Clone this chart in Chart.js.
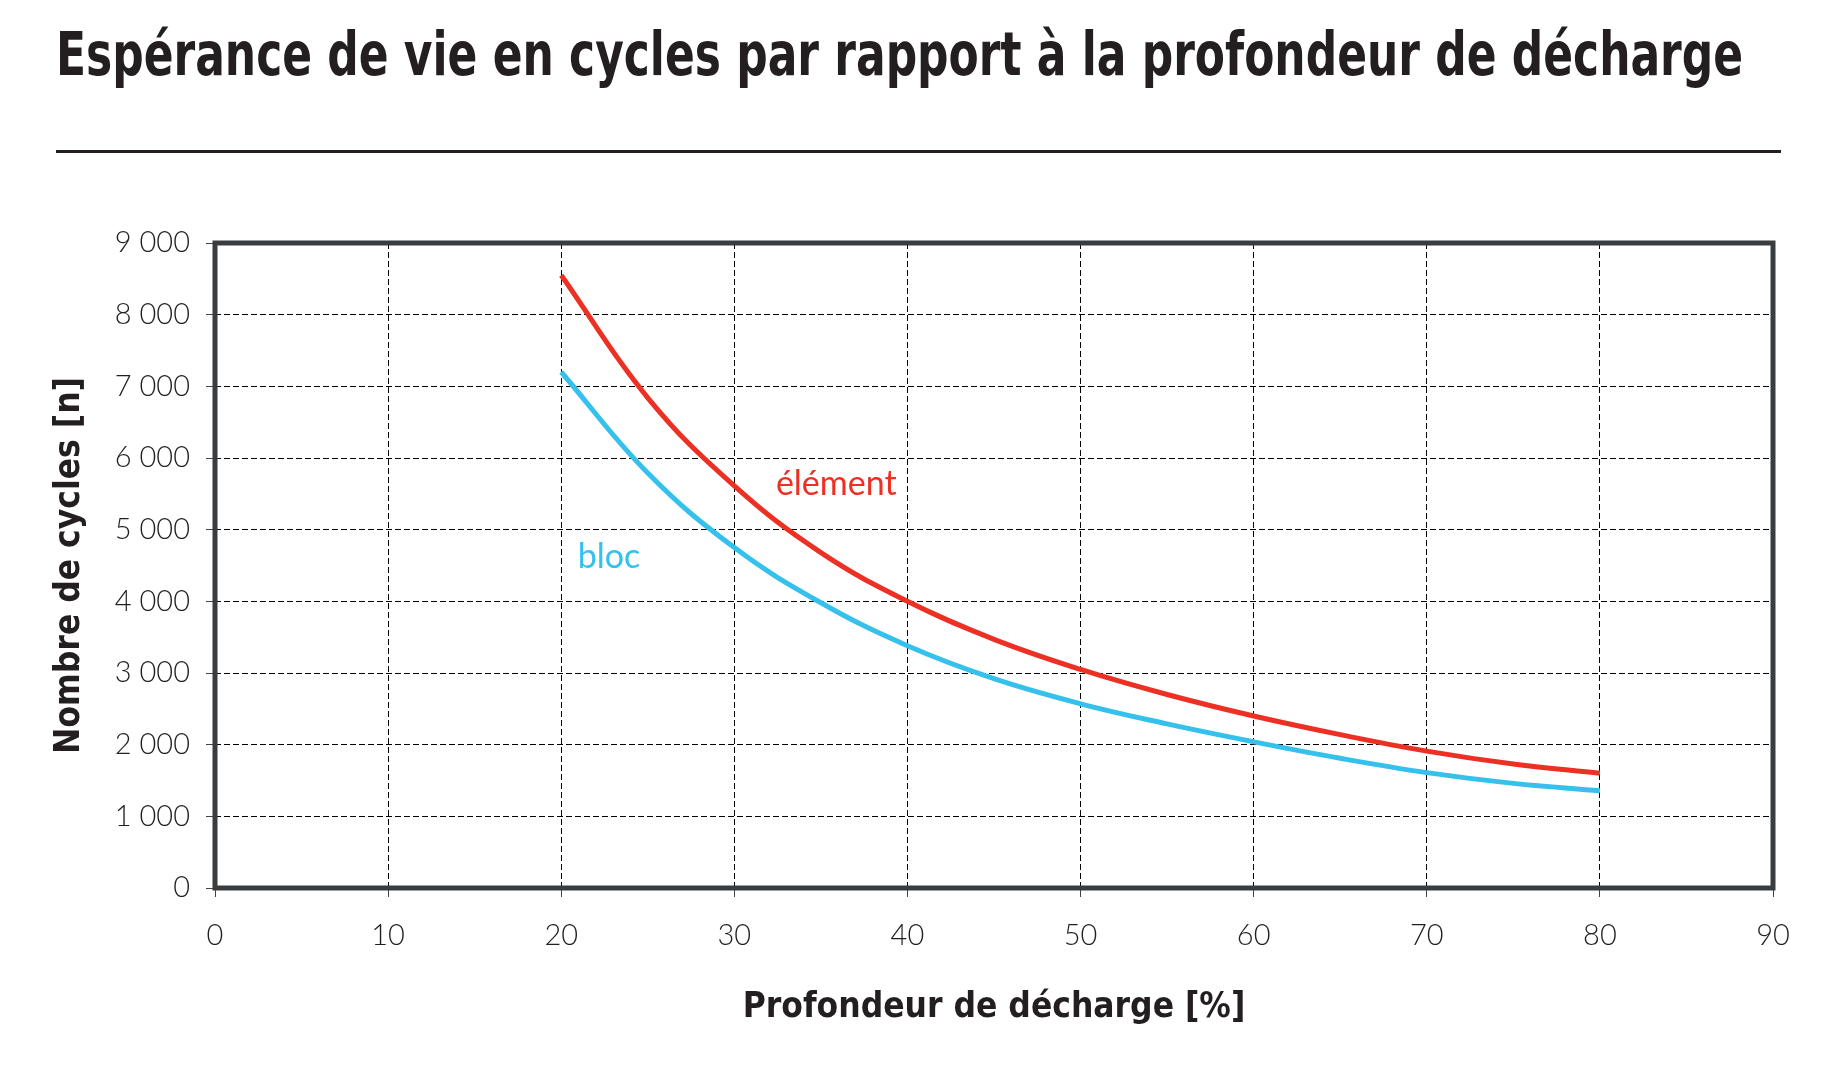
<!DOCTYPE html>
<html>
<head>
<meta charset="utf-8">
<script src="https://cdn.jsdelivr.net/npm/chart.js@4.4.1/dist/chart.umd.min.js"></script>
<style>
	html, body { margin: 0; padding: 0; background: #fff; }
	body { width: 1841px; height: 1078px; position: relative; overflow: hidden; }
	#wrap { position: absolute; left: 0; top: 0; width: 1841px; height: 1078px; }
	#title {
		position: absolute; left: 56px; top: 24px;
		font: bold 60px "Liberation Sans Narrow", "DejaVu Sans Condensed", sans-serif;
		line-height: 60px; color: #231f20; white-space: nowrap;
		transform-origin: left top;
	}
	#rule { position: absolute; left: 56px; top: 150px; width: 1725px; height: 3px; background: #231f20; }
</style>
</head>
<body>
<div id="wrap"><canvas id="cycles-chart"></canvas></div>
<div id="title">Espérance de vie en cycles par rapport à la profondeur de décharge</div>
<div id="rule"></div>
<script>
// values
const depthPct = [20, 25, 30, 35, 40, 45, 50, 55, 60, 65, 70, 75, 80];
const cyclesElement = [8550, 6840, 5610, 4680, 4000, 3470, 3050, 2700, 2400, 2140, 1910, 1730, 1600];
const cyclesBloc = [7200, 5790, 4750, 3980, 3380, 2920, 2570, 2290, 2040, 1810, 1610, 1460, 1357];
const xTicks = [0, 10, 20, 30, 40, 50, 60, 70, 80, 90];
const yTicks = [0, 1000, 2000, 3000, 4000, 5000, 6000, 7000, 8000, 9000];

const RED = "#ec3124";
const BLUE = "#35c1ec";
const INK = "#231f20";
const NARROW = '"Liberation Sans Narrow", "DejaVu Sans Condensed", sans-serif';
const LIGHT = 'Lato, "Open Sans", sans-serif';

// curve captions, anchored in data units
const captions = [
	{ text: "élément", x: 32.4, y: 5480, color: RED },
	{ text: "bloc", x: 20.95, y: 4460, color: BLUE },
];

const toPoints = (xs, ys) => xs.map((x, i) => ({ x: x, y: ys[i] }));
const spaced = (v) => String(v).replace(/\B(?=(\d{3})+(?!\d))/g, "\u00a0");

const framePlugin = {
	id: "frame",
	afterDatasetsDraw(chart) {
		const { ctx, chartArea: a, scales } = chart;
		ctx.save();
		ctx.font = "400 34px " + LIGHT;
		ctx.textBaseline = "alphabetic";
		captions.forEach((c) => {
			ctx.fillStyle = c.color;
			ctx.fillText(c.text, scales.x.getPixelForValue(c.x), scales.y.getPixelForValue(c.y));
		});
		ctx.strokeStyle = "#3a3d40";
		ctx.lineWidth = 5;
		ctx.strokeRect(a.left, a.top, a.right - a.left, a.bottom - a.top);
		ctx.restore();
	},
};

const cyclesChart = new Chart(document.getElementById("cycles-chart"), {
	type: "line",
	data: {
		datasets: [
			{
				label: "élément",
				data: toPoints(depthPct, cyclesElement),
				borderColor: RED,
				borderWidth: 5,
				pointRadius: 0,
				tension: 0.4,
				fill: false,
			},
			{
				label: "bloc",
				data: toPoints(depthPct, cyclesBloc),
				borderColor: BLUE,
				borderWidth: 5,
				pointRadius: 0,
				tension: 0.4,
				fill: false,
			},
		],
	},
	options: {
		responsive: true,
		maintainAspectRatio: false,
		animation: false,
		layout: { padding: { top: 243, right: 68, left: 40, bottom: 40 } },
		plugins: {
			legend: { display: false },
			tooltip: { enabled: false },
		},
		scales: {
			x: {
				type: "linear",
				min: 0,
				max: 90,
				afterBuildTicks: (s) => { s.ticks = xTicks.map((v) => ({ value: v })); },
				afterFit: (s) => { s.height = 150; },
				grid: { color: "#000", lineWidth: 1, tickLength: 9, tickColor: "#444", tickWidth: 1 },
				border: { display: false, dash: [6, 3] },
				ticks: { color: INK, padding: 21, font: { family: LIGHT, size: 29, weight: "300" } },
				title: {
					display: true,
					text: "Profondeur de décharge [%]",
					color: INK,
					padding: { top: 0, bottom: 9 },
					font: { family: NARROW, size: 35, weight: "bold" },
				},
			},
			y: {
				type: "linear",
				min: 0,
				max: 9000,
				afterBuildTicks: (s) => { s.ticks = yTicks.map((v) => ({ value: v })); },
				afterFit: (s) => { s.width = 175; },
				grid: { color: "#000", lineWidth: 1, tickLength: 9, tickColor: "#444", tickWidth: 1 },
				border: { display: false, dash: [6, 3] },
				ticks: {
					color: INK,
					padding: 16,
					font: { family: LIGHT, size: 29, weight: "300" },
					callback: (v) => spaced(v),
				},
				title: {
					display: true,
					text: "Nombre de cycles [n]",
					color: INK,
					padding: { top: 9, bottom: 0 },
					font: { family: NARROW, size: 35, weight: "bold" },
				},
			},
		},
	},
	plugins: [framePlugin],
});

// stretch the heading to the width it has in the reference
const titleEl = document.getElementById("title");
const w = titleEl.getBoundingClientRect().width;
titleEl.style.transform = "scaleX(" + (1687 / w).toFixed(4) + ")";
</script>
</body>
</html>
